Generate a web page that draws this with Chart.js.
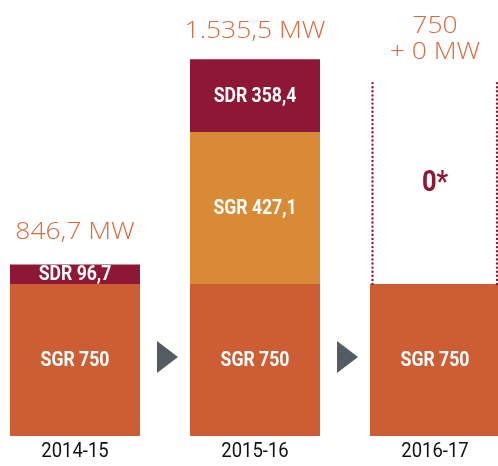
<!DOCTYPE html>
<html>
<head>
<meta charset="utf-8">
<script src="https://cdn.jsdelivr.net/npm/chart.js@4"></script>
<style>
  html, body { margin: 0; padding: 0; background: #fff; }
  #wrap { width: 498px; height: 466px; }
</style>
</head>
<body>
<div id="wrap"><canvas id="myChart" width="498" height="466"></canvas></div>
<script>
const periodos = ["2014-15", "2015-16", "2016-17"];
// alturas dibujadas de cada tramo (MW a la escala del gráfico)
const sgrBase = [750, 750, 750];
const sgrExtra = [0, 750, 0];
const sdr = [96.7, 358.4, 0];
const pendiente = [0, 0, 1000];
// textos
const txtSgrBase = ["SGR 750", "SGR 750", "SGR 750"];
const txtSgrExtra = ["", "SGR 427,1", ""];
const txtSdr = ["SDR 96,7", "SDR 358,4", ""];
const txtPendiente = ["", "", "0*"];
const totales = [["846,7 MW"], ["1.535,5 MW"], ["750", "+ 0 MW"]];
const desfaseTotales = [[-32], [-28], [-55, -29]];

const bold = "Roboto, sans-serif";
const light = '"Open Sans", Roboto, sans-serif';

// texto estrechado horizontalmente (la fuente original es condensada)
function texto(c, t, x, y, sx) {
  c.save();
  c.translate(x, y);
  c.scale(sx, 1);
  c.fillText(t, 0, 0);
  c.restore();
}

const etiquetas = {
  id: "etiquetas",
  afterDatasetsDraw(chart) {
    const c = chart.ctx;
    const xScale = chart.scales.x;
    const yScale = chart.scales.y;
    const textos = [txtSgrBase, txtSgrExtra, txtSdr, txtPendiente];
    c.save();
    c.textAlign = "center";
    c.textBaseline = "middle";

    // textos dentro de los tramos
    chart.data.datasets.forEach((ds, i) => {
      const meta = chart.getDatasetMeta(i);
      meta.data.forEach((bar, j) => {
        const t = textos[i][j];
        if (!t) return;
        const mid = (bar.y + bar.base) / 2;
        if (i === 3) {
          c.fillStyle = "#8e1735";
          c.font = "bold 29px " + bold;
          texto(c, t, bar.x, mid + 1, 0.88);
        } else {
          c.fillStyle = "#ffffff";
          c.font = "bold 20px " + bold;
          texto(c, t, bar.x, mid + 1, 0.88);
        }
      });
    });

    // contorno punteado del tramo pendiente
    const pb = chart.getDatasetMeta(3).data[2];
    c.strokeStyle = "#8e1735";
    c.lineWidth = 2.4;
    c.lineCap = "round";
    c.setLineDash([0, 4.1]);
    [pb.x - pb.width / 2 + 2.5, pb.x + pb.width / 2 - 3].forEach((x) => {
      c.beginPath();
      c.moveTo(x, pb.base);
      c.lineTo(x, pb.y);
      c.stroke();
    });
    c.setLineDash([]);

    // totales sobre cada barra
    c.fillStyle = "#da6a3c";
    c.font = "300 23px " + light;
    const tops = [chart.getDatasetMeta(2).data[0].y, chart.getDatasetMeta(2).data[1].y, pb.y];
    totales.forEach((lines, j) => {
      const x = xScale.getPixelForValue(j);
      lines.forEach((l, k) => {
        texto(c, l, x, tops[j] + desfaseTotales[j][k], 1.15);
      });
    });

    // categorías bajo el eje
    c.fillStyle = "#111111";
    c.font = "21px " + bold;
    c.textBaseline = "alphabetic";
    periodos.forEach((p, j) => {
      texto(c, p, xScale.getPixelForValue(j), 456.5, 0.88);
    });

    // flechas entre barras
    c.fillStyle = "#545c63";
    const yFlecha = yScale.getPixelForValue(390);
    for (let j = 0; j < 2; j++) {
      const a = chart.getDatasetMeta(0).data[j];
      const b = chart.getDatasetMeta(0).data[j + 1];
      const gx = ((a.x + a.width / 2) + (b.x - b.width / 2)) / 2;
      c.beginPath();
      c.moveTo(gx - 8, yFlecha - 16);
      c.lineTo(gx + 13, yFlecha);
      c.lineTo(gx - 8, yFlecha + 16);
      c.closePath();
      c.fill();
    }
    c.restore();
  }
};

const ctx = document.getElementById("myChart").getContext("2d");
const comun = { barPercentage: 1, categoryPercentage: 130 / 180, clip: false, borderWidth: 0 };

new Chart(ctx, {
  type: "bar",
  data: {
    labels: periodos,
    datasets: [
      { label: "SGR", data: sgrBase, backgroundColor: "#cd5e33", ...comun },
      { label: "SGR adicional", data: sgrExtra, backgroundColor: "#d88a35", ...comun },
      { label: "SDR", data: sdr, backgroundColor: "#8e1735", ...comun },
      { label: "Pendiente", data: pendiente, backgroundColor: "rgba(0,0,0,0)", ...comun }
    ]
  },
  options: {
    responsive: false,
    animation: false,
    events: [],
    layout: { padding: { left: 75, right: 63, top: 30.67, bottom: 30 } },
    plugins: { legend: { display: false }, tooltip: { enabled: false } },
    scales: {
      x: { stacked: true, offset: false, display: false },
      y: { stacked: true, display: false, min: 0, max: 2000 }
    }
  },
  plugins: [etiquetas]
});
</script>
</body>
</html>
